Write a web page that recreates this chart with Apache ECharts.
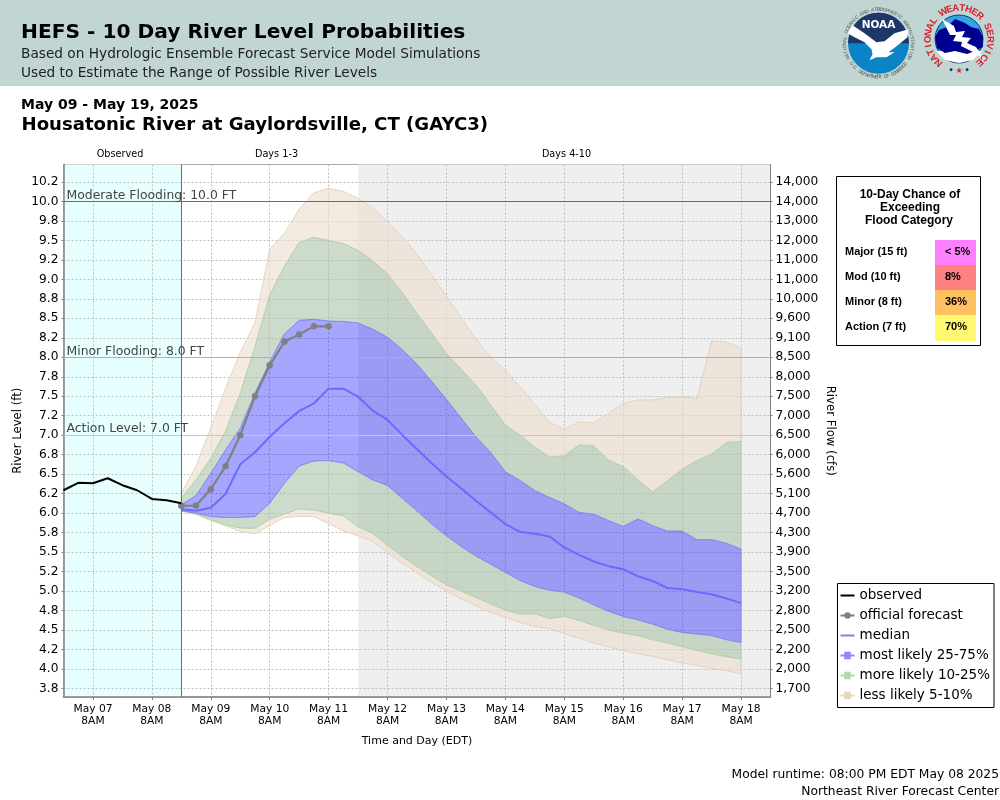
<!DOCTYPE html>
<html>
<head>
<meta charset="utf-8">
<title>HEFS - 10 Day River Level Probabilities</title>
<script src="https://cdn.jsdelivr.net/npm/echarts@6/dist/echarts.min.js"></script>
<style>
  html, body { margin: 0; padding: 0; background: #fff; }
  #main { width: 1000px; height: 800px; }
</style>
</head>
<body>
<div id="main"></div>
<script>
// observed stage, every 6 h from May 06 20:00
const observedLevels = [6.294, 6.389, 6.384, 6.448, 6.359, 6.294, 6.183, 6.166, 6.128]
// official forecast, every 6 h from May 08 20:00
const officialLevels = [6.094, 6.098, 6.307, 6.602, 7.0, 7.5, 7.897, 8.2, 8.294, 8.397, 8.397]
// ensemble traces, every 6 h from May 08 20:00 to May 18 08:00
const median = [6.05, 6.03, 6.07, 6.247, 6.628, 6.782, 6.98, 7.154, 7.312, 7.41, 7.598, 7.598, 7.495, 7.316, 7.196, 7.004, 6.82, 6.64, 6.47, 6.316, 6.16, 6.01, 5.86, 5.76, 5.735, 5.70, 5.56, 5.465, 5.38, 5.32, 5.28, 5.19, 5.13, 5.04, 5.025, 4.987, 4.96, 4.906, 4.846]
const p75 = [6.107, 6.226, 6.51, 6.81, 7.09, 7.54, 7.94, 8.30, 8.474, 8.487, 8.465, 8.46, 8.44, 8.36, 8.256, 8.10, 7.91, 7.69, 7.46, 7.22, 6.98, 6.78, 6.53, 6.42, 6.29, 6.20, 6.12, 6.01, 5.987, 5.905, 5.83, 5.927, 5.84, 5.77, 5.77, 5.66, 5.66, 5.615, 5.54]
const p25 = [6.03, 6.0, 5.957, 5.944, 5.944, 5.957, 6.128, 6.384, 6.606, 6.67, 6.675, 6.645, 6.534, 6.427, 6.354, 6.19, 6.03, 5.86, 5.709, 5.572, 5.45, 5.346, 5.24, 5.136, 5.06, 5.01, 4.987, 4.91, 4.824, 4.74, 4.675, 4.63, 4.576, 4.51, 4.47, 4.448, 4.43, 4.376, 4.34]
const p90 = [6.19, 6.427, 6.705, 7.05, 7.538, 8.136, 8.80, 9.17, 9.474, 9.54, 9.50, 9.46, 9.37, 9.24, 9.07, 8.83, 8.56, 8.31, 8.05, 7.846, 7.645, 7.39, 7.13, 7.0, 6.846, 6.72, 6.735, 6.876, 6.863, 6.68, 6.598, 6.427, 6.27, 6.414, 6.564, 6.675, 6.756, 6.906, 6.92]
const p10 = [6.03, 5.987, 5.914, 5.85, 5.81, 5.807, 5.923, 5.99, 6.055, 6.04, 6.0, 5.965, 5.825, 5.74, 5.585, 5.444, 5.316, 5.196, 5.08, 5.0, 4.918, 4.837, 4.756, 4.705, 4.709, 4.649, 4.675, 4.624, 4.56, 4.50, 4.46, 4.427, 4.376, 4.333, 4.286, 4.239, 4.196, 4.158, 4.128]
const p95 = [6.256, 6.606, 7.1, 7.6, 8.064, 8.444, 9.389, 9.59, 9.90, 10.11, 10.17, 10.13, 10.04, 9.91, 9.74, 9.55, 9.32, 9.055, 8.786, 8.508, 8.235, 8.0, 7.83, 7.62, 7.39, 7.166, 7.077, 7.17, 7.158, 7.28, 7.406, 7.453, 7.453, 7.483, 7.491, 7.47, 8.209, 8.196, 8.115]
const p5 = [6.03, 5.987, 5.906, 5.837, 5.765, 5.735, 5.84, 5.944, 5.957, 5.957, 5.863, 5.773, 5.709, 5.636, 5.495, 5.358, 5.24, 5.11, 5.0, 4.90, 4.81, 4.726, 4.666, 4.598, 4.547, 4.517, 4.453, 4.397, 4.333, 4.286, 4.235, 4.196, 4.162, 4.12, 4.077, 4.047, 4.008, 3.978, 3.94]

// axis ticks
const levelTicks = [3.75, 4, 4.25, 4.5, 4.75, 5, 5.25, 5.5, 5.75, 6, 6.25, 6.5, 6.75, 7, 7.25, 7.5, 7.75, 8, 8.25, 8.5, 8.75, 9, 9.25, 9.5, 9.75, 10, 10.25]
const levelLabels = ['3.8', '4.0', '4.2', '4.5', '4.8', '5.0', '5.2', '5.5', '5.8', '6.0', '6.2', '6.5', '6.8', '7.0', '7.2', '7.5', '7.8', '8.0', '8.2', '8.5', '8.8', '9.0', '9.2', '9.5', '9.8', '10.0', '10.2']
const flowLabels = ['1,700', '2,000', '2,200', '2,500', '2,800', '3,200', '3,500', '3,900', '4,300', '4,700', '5,100', '5,600', '6,000', '6,500', '7,000', '7,500', '8,000', '8,500', '9,100', '9,600', '10,000', '11,000', '11,000', '12,000', '13,000', '14,000', '14,000']
const dayLabels = ['May 07', 'May 08', 'May 09', 'May 10', 'May 11', 'May 12', 'May 13', 'May 14', 'May 15', 'May 16', 'May 17', 'May 18']

// flood stages
const stageNames = ['Moderate Flooding: 10.0 FT', 'Minor Flooding: 8.0 FT', 'Action Level: 7.0 FT']
const stageLevels = [10, 8, 7]
const stageColors = ['#e03a3a', '#f0a050', '#f5c93a']

// flood category table
const categoryNames = ['Major (15 ft)', 'Mod (10 ft)', 'Minor (8 ft)', 'Action (7 ft)']
const categoryChances = ['< 5%', '8%', '36%', '70%']
const categoryColors = ['#ff80ff', '#ff8080', '#ffc060', '#fff870']

const HOUR = 3600 * 1000
const start = Date.UTC(2025, 4, 6, 20)
const runtime = Date.UTC(2025, 4, 8, 20)
const end = Date.UTC(2025, 4, 18, 20)
const shadeFrom = Date.UTC(2025, 4, 11, 20)
const dayTicks = dayLabels.map((d, i) => Date.UTC(2025, 4, 7 + i, 8))

function toSeries(vals, from) {
  return vals.map((v, i) => [from + i * 6 * HOUR, v])
}

// one filled polygon between two traces
function band(name, upper, lower, fill, edge) {
  return {
    name: name,
    type: 'custom',
    z: 3,
    silent: true,
    itemStyle: { color: edge },
    data: upper.map((v, i) => [runtime + i * 6 * HOUR, v, lower[i]]),
    encode: { x: 0, y: [1, 2] },
    renderItem: function (params, api) {
      if (params.dataIndex !== 0) return null
      const top = upper.map((v, i) => api.coord([runtime + i * 6 * HOUR, v]))
      const bottom = lower.map((v, i) => api.coord([runtime + i * 6 * HOUR, v])).reverse()
      return {
        type: 'polygon',
        shape: { points: top.concat(bottom) },
        style: { fill: fill, stroke: edge, lineWidth: 1 }
      }
    }
  }
}

function txt(str, x, y, font, fill, align, rot) {
  return {
    type: 'text', x: x, y: y, rotation: rot || 0, silent: true,
    style: { text: str, font: font, fill: fill || '#000', align: align || 'left', verticalAlign: 'middle' }
  }
}

// letters around a ring, angles clockwise from top
function ringText(str, cx, cy, r, from, to, font, fill, flip) {
  const out = []
  const chars = str.split('')
  chars.forEach(function (c, i) {
    const deg = from + (to - from) * (i + 0.5) / chars.length
    const a = deg * Math.PI / 180
    const rot = flip ? -(a - Math.PI) : -a
    out.push(txt(c, cx + r * Math.sin(a), cy - r * Math.cos(a), font, fill, 'center', rot))
  })
  return out
}

function noaaLogo(cx, cy) {
  const pts = function (arr) { return arr.map(p => [cx + p[0], cy + p[1]]) }
  return [
    { type: 'circle', shape: { cx: cx, cy: cy, r: 30.5 }, style: { fill: '#0a84c6' }, silent: true },
    { type: 'sector', shape: { cx: cx, cy: cy, r: 30.5, startAngle: Math.PI, endAngle: 2 * Math.PI }, style: { fill: '#1c3768' }, silent: true },
    { type: 'polygon', shape: { points: pts([[-31, -10], [-26, -18], [-14, -10], [-2, -1], [6, -2], [16, -10], [30, -14], [29, -6], [18, 3], [10, 9], [16, 9], [8, 14], [-2, 14], [-9, 17], [-6, 11], [-7, 6], [-14, -1], [-24, -6]]) }, style: { fill: '#fff' }, silent: true },
    txt('NOAA', cx, cy - 18, 'bold 10.5px "DejaVu Sans"', '#fff', 'center')
  ].concat(
    ringText('NATIONAL OCEANIC AND ATMOSPHERIC ADMINISTRATION', cx, cy, 33.8, -118, 118, '4.8px "Liberation Sans"', '#555'),
    ringText('U.S. DEPARTMENT OF COMMERCE', cx, cy, 33.8, 235, 125, '4.8px "Liberation Sans"', '#555', true)
  )
}

function nwsLogo(cx, cy) {
  const pts = function (arr) { return arr.map(p => [cx + p[0], cy + p[1]]) }
  return [
    { type: 'circle', shape: { cx: cx, cy: cy, r: 24 }, style: { fill: '#35a5e0', stroke: '#123a80', lineWidth: 1 }, silent: true },
    { type: 'polygon', shape: { points: pts([[-23, 12], [23, 12], [14, 21], [0, 24], [-14, 21]]) }, style: { fill: '#fff' }, silent: true },
    { type: 'polygon', shape: { points: pts([[-24, -2], [-20, -9], [-12, -12], [-4, -20], [6, -16], [12, -12], [20, -10], [24, -2], [24, 8], [16, 12], [8, 15], [-4, 12], [-14, 14], [-22, 9]]) }, style: { fill: '#000090' }, silent: true },
    { type: 'polygon', shape: { points: pts([[-17, -20], [-5, -13], [-3, -7], [6, -8], [3, -2], [12, -1], [8, 4], [17, 8], [25, 20], [12, 12], [2, 7], [3, 3], [-6, 2], [-3, -4], [-9, -4]]) }, style: { fill: '#fff' }, silent: true },
    txt('\u2022', cx - 8, cy + 31.5, 'bold 8px "DejaVu Sans"', '#123a80', 'center'),
    txt('\u2605', cx, cy + 31.5, 'bold 8px "DejaVu Sans"', '#d8202c', 'center'),
    txt('\u2022', cx + 8, cy + 31.5, 'bold 8px "DejaVu Sans"', '#123a80', 'center')
  ].concat(ringText('NATIONAL WEATHER SERVICE', cx, cy, 31, -145, 145, 'bold 9.5px "Liberation Sans"', '#d8202c'))
}

function chanceTable() {
  const out = [
    { type: 'rect', shape: { x: 836.5, y: 176.5, width: 144, height: 169 }, style: { fill: '#fff', stroke: '#000', lineWidth: 1 }, silent: true },
    txt('10-Day Chance of', 910, 195, 'bold 12px "Liberation Sans"', '#000', 'center'),
    txt('Exceeding', 910, 208, 'bold 12px "Liberation Sans"', '#000', 'center'),
    txt('Flood Category', 909, 221, 'bold 12px "Liberation Sans"', '#000', 'center')
  ]
  categoryNames.forEach(function (c, i) {
    const y = 240 + i * 25
    out.push({ type: 'rect', shape: { x: 935, y: y, width: 41, height: i === 3 ? 26 : 25 }, style: { fill: categoryColors[i] }, silent: true })
    out.push(txt(c, 845, y + 12, 'bold 11px "Liberation Sans"', '#000'))
    out.push(txt(categoryChances[i], 945, y + 12, 'bold 11px "Liberation Sans"', '#000'))
  })
  return out
}

const sans = '"DejaVu Sans"'
const graphics = [
  { type: 'rect', z: -10, shape: { x: 0, y: 0, width: 1000, height: 86 }, style: { fill: '#c1d6d3' }, silent: true },
  txt('HEFS - 10 Day River Level Probabilities', 21, 33, 'bold 20.2px ' + sans),
  txt('Based on Hydrologic Ensemble Forecast Service Model Simulations', 21, 54, '13.7px ' + sans, '#222'),
  txt('Used to Estimate the Range of Possible River Levels', 21, 73, '13.7px ' + sans, '#222'),
  txt('May 09 - May 19, 2025', 21, 105, 'bold 14px ' + sans),
  txt('Housatonic River at Gaylordsville, CT (GAYC3)', 21.5, 125.5, 'bold 18.1px ' + sans),
  txt('Observed', 120, 154, '9.7px ' + sans, '#000', 'center'),
  txt('Days 1-3', 276.5, 154, '9.7px ' + sans, '#000', 'center'),
  txt('Days 4-10', 566.5, 154, '9.7px ' + sans, '#000', 'center'),
  txt('Model runtime: 08:00 PM EDT May 08 2025', 999, 775, '12.3px ' + sans, '#000', 'right'),
  txt('Northeast River Forecast Center', 999, 791.5, '12.3px ' + sans, '#000', 'right')
].concat(noaaLogo(878.5, 43.3), nwsLogo(959, 39), chanceTable())

// legend swatches: plain line, and line with a square on it
const lineIcon = 'path://M0 0h.01v.01H0zM0 3h15v2H0zM0 7.99h.01v.01H0z'
const swatch = 'path://M0 3h4V0h7v3h4v2h-4v3H4V5H0z'

const option = {
  animation: false,
  backgroundColor: '#fff',
  textStyle: { fontFamily: sans },
  grid: { left: 63.5, right: 229.5, top: 164.5, height: 532.5, show: true, borderColor: '#aaa', borderWidth: 1, backgroundColor: '#fff' },
  legend: {
    orient: 'vertical', left: 837.5, top: 583.5, padding: [4, 4, 4, 2],
    backgroundColor: '#fff', borderColor: '#000', borderWidth: 1,
    itemWidth: 14, itemHeight: 8, itemGap: 4,
    textStyle: { fontSize: 13.5, color: '#000', fontFamily: sans, lineHeight: 16 },
    selectedMode: false,
    data: [
      { name: 'observed', icon: lineIcon, itemStyle: { color: '#000' } },
      { name: 'official forecast' },
      { name: 'median', icon: lineIcon, itemStyle: { color: '#8080ff' } },
      { name: 'most likely 25-75%', icon: swatch, itemStyle: { color: 'rgba(90,90,255,0.7)' } },
      { name: 'more likely 10-25%', icon: swatch, itemStyle: { color: 'rgba(130,190,120,0.6)' } },
      { name: 'less likely 5-10%', icon: swatch, itemStyle: { color: 'rgba(215,185,150,0.6)' } }
    ]
  },
  xAxis: {
    type: 'value', min: start, max: end, z: 2,
    name: 'Time and Day (EDT)', nameLocation: 'middle', nameGap: 39,
    nameTextStyle: { fontSize: 11, color: '#000' },
    axisLine: { lineStyle: { color: '#808080', width: 1.5 } },
    axisTick: { customValues: dayTicks, length: 3, lineStyle: { color: '#808080' } },
    axisLabel: {
      customValues: dayTicks, margin: 6, fontSize: 10.7, lineHeight: 12, color: '#000', hideOverlap: false,
      formatter: function (v) { return dayLabels[dayTicks.indexOf(v)] + '\n8AM' }
    },
    splitLine: { show: true, lineStyle: { color: '#bfbfbf', type: [2, 2], width: 1 } }
  },
  yAxis: [
    {
      type: 'value', min: 3.641, max: 10.474, z: 2,
      name: 'River Level (ft)', nameLocation: 'middle', nameGap: 40, nameRotate: 90, nameMoveOverlap: false,
      nameTextStyle: { fontSize: 11.7, color: '#000' },
      axisLine: { show: true, lineStyle: { color: '#808080', width: 1.5 } },
      axisTick: { show: true, customValues: levelTicks, length: 2, lineStyle: { color: '#808080' } },
      axisLabel: {
        customValues: levelTicks, margin: 5, fontSize: 12.2, color: '#000',
        formatter: function (v) { return levelLabels[levelTicks.indexOf(v)] }
      },
      splitLine: { show: true, lineStyle: { color: '#bfbfbf', type: [2, 2], width: 1 } }
    },
    {
      type: 'value', min: 3.641, max: 10.474, position: 'right', z: 2,
      name: 'River Flow (cfs)', nameLocation: 'middle', nameGap: 54, nameRotate: -90, nameMoveOverlap: false,
      nameTextStyle: { fontSize: 11.7, color: '#000' },
      axisLine: { show: true, lineStyle: { color: '#808080', width: 1 } },
      axisTick: { show: true, customValues: levelTicks, length: 2, lineStyle: { color: '#808080' } },
      axisLabel: {
        customValues: levelTicks, margin: 5, fontSize: 12.2, color: '#000',
        formatter: function (v) { return flowLabels[levelTicks.indexOf(v)] }
      },
      splitLine: { show: false }
    }
  ],
  graphic: { elements: graphics },
  series: [
    {
      name: 'shade', type: 'line', z: 1, data: [], silent: true,
      markArea: {
        silent: true,
        data: [
          [{ xAxis: start, itemStyle: { color: '#e8ffff' } }, { xAxis: runtime }],
          [{ xAxis: shadeFrom, itemStyle: { color: '#efefef' } }, { xAxis: end }]
        ]
      }
    },
    band('less likely 5-10%', p95, p90, 'rgba(235,220,205,0.6)', 'rgba(228,205,178,0.8)'),
    band('less likely 5-10%', p10, p5, 'rgba(235,220,205,0.6)', 'rgba(228,205,178,0.8)'),
    band('more likely 10-25%', p90, p75, 'rgba(170,195,168,0.6)', 'rgba(178,212,168,0.8)'),
    band('more likely 10-25%', p25, p10, 'rgba(170,195,168,0.6)', 'rgba(178,212,168,0.8)'),
    band('most likely 25-75%', p75, p25, 'rgba(0,0,255,0.35)', 'rgba(130,130,255,0.85)'),
    {
      name: 'stages', type: 'line', z: 5, data: [], silent: true,
      markLine: {
        silent: true, symbol: 'none', animation: false,
        data: stageLevels.map(function (v, i) {
          return {
            yAxis: v,
            lineStyle: { color: stageColors[i], width: 1, type: 'solid' },
            label: {
              show: true, position: 'insideStartTop', distance: [3, 0], formatter: stageNames[i],
              fontSize: 12.4, color: '#444', fontFamily: sans
            }
          }
        }).concat([{ xAxis: runtime, lineStyle: { color: '#e03a3a', width: 1, type: 'solid' }, label: { show: false } }])
      }
    },
    {
      name: 'median', type: 'line', z: 6, data: toSeries(median, runtime), symbol: 'none',
      lineStyle: { color: '#6a6aff', width: 2 }, itemStyle: { color: '#8080ff' }
    },
    {
      name: 'official forecast', type: 'line', z: 7, data: toSeries(officialLevels, runtime),
      symbol: 'circle', symbolSize: 6.5, showSymbol: true,
      lineStyle: { color: '#808080', width: 2.2 }, itemStyle: { color: '#808080' }
    },
    {
      name: 'observed', type: 'line', z: 8, data: toSeries(observedLevels, start), symbol: 'none',
      lineStyle: { color: '#000', width: 2 }, itemStyle: { color: '#000' }
    }
  ]
}

const myChart = echarts.init(document.getElementById('main'), null, { renderer: 'canvas' })
myChart.setOption(option)
</script>
</body>
</html>
